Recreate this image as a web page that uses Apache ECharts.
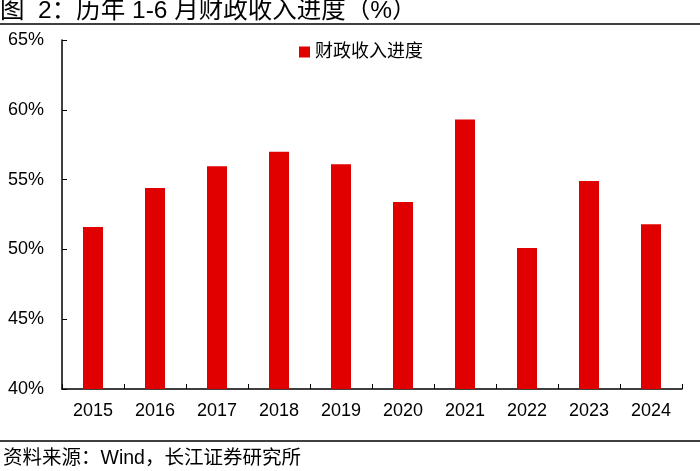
<!DOCTYPE html>
<html><head><meta charset="utf-8">
<script src="https://cdn.jsdelivr.net/npm/echarts@6/dist/echarts.min.js"></script>
<style>html,body{margin:0;padding:0;background:#fff}#c{width:700px;height:471px}</style>
</head><body><div id="c"></div>
<script>
const categories = ['2015','2016','2017','2018','2019','2020','2021','2022','2023','2024'];
const revenueProgress = [51.6, 54.4, 55.95, 57.0, 56.1, 53.4, 59.3, 50.1, 54.9, 51.8];
const seriesName = '财政收入进度';
const titleText = '图  2：历年 1-6 月财政收入进度（%）';
const sourceText = '资料来源：Wind，长江证券研究所';
const FONT = '"Liberation Sans", Arial, "Noto Sans CJK SC", sans-serif';

const chart = echarts.init(document.getElementById('c'), null, {renderer:'canvas'});
chart.setOption({
  backgroundColor:'#fff',
  animation:false,
  textStyle:{fontFamily:FONT},
  title:[
    {text:titleText, left:0, top:-1, padding:0, textStyle:{fontSize:24.5, fontWeight:'normal', color:'#000', fontFamily:FONT}},
    {text:sourceText, left:3, top:449, padding:0, textStyle:{fontSize:19.5, fontWeight:'normal', color:'#000', fontFamily:FONT}}
  ],
  graphic:[
    {type:'line', shape:{x1:0,y1:24,x2:700,y2:24}, style:{stroke:'#000', lineWidth:1.5}},
    {type:'line', shape:{x1:0,y1:441,x2:700,y2:441}, style:{stroke:'#000', lineWidth:1.5}}
  ],
  legend:{
    data:[seriesName], top:38, left:294, itemWidth:11, itemHeight:11, itemGap:5,
    icon:'rect', textStyle:{fontSize:18, color:'#000', fontFamily:FONT}
  },
  grid:{left:62, right:18, top:40, bottom:82, containLabel:false},
  xAxis:{
    type:'category', data:categories, boundaryGap:true,
    axisLine:{lineStyle:{color:'#000', width:1.5}},
    axisTick:{show:true, inside:true, length:5, alignWithLabel:false, lineStyle:{color:'#000'}},
    axisLabel:{fontSize:18, color:'#000', margin:13, fontFamily:FONT}
  },
  yAxis:{
    type:'value', min:40, max:65, interval:5,
    axisLine:{show:true, lineStyle:{color:'#000', width:1.5}},
    axisTick:{show:true, inside:true, length:5, lineStyle:{color:'#000'}},
    splitLine:{show:false},
    axisLabel:{fontSize:18, color:'#000', margin:18, formatter:'{value}%', fontFamily:FONT}
  },
  series:[{
    name:seriesName, type:'bar', data:revenueProgress, barWidth:20,
    itemStyle:{color:'#E00000'}
  }]
});
</script></body></html>
